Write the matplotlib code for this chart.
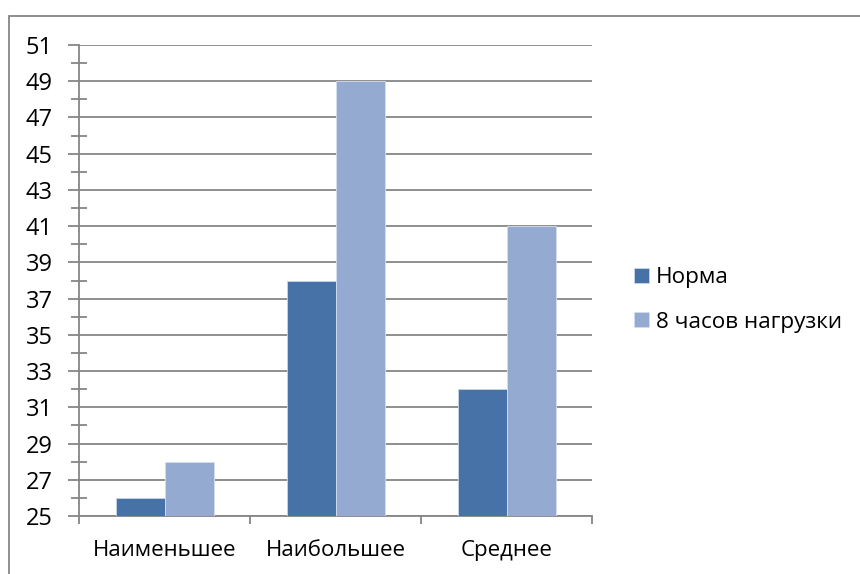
import matplotlib.pyplot as plt
import numpy as np
from matplotlib.patches import Rectangle

categories = ['Наименьшее', 'Наибольшее', 'Среднее']
norm = [26, 38, 32]
load8 = [28, 49, 41]
series_names = ['Норма', '8 часов нагрузки']
yticks = list(range(25, 52, 2))

plt.rcParams['font.family'] = ['Open Sans', 'DejaVu Sans']
grey = '#868686'

fig = plt.figure(figsize=(8.6, 5.74), dpi=100)
ax = fig.add_axes([79/860, 1 - 516/574, (592-79)/860, (516-45)/574])

x = np.arange(len(categories))
w = 49/171
ax.bar(x - w/2, np.array(norm) - 25, w, bottom=25, color='#4672A8',
       edgecolor='#C9D5E8', linewidth=0.6, label=series_names[0], zorder=3)
ax.bar(x + w/2, np.array(load8) - 25, w, bottom=25, color='#95AAD0',
       edgecolor='#D5DEEE', linewidth=0.6, label=series_names[1], zorder=3)

ax.set_xlim(-0.5, len(categories) - 0.5)
ax.set_ylim(25, 51)
ax.set_yticks(yticks)
ax.set_yticks(range(26, 51, 2), minor=True)
ax.yaxis.grid(True, color=grey, linewidth=1.3, zorder=0)
ax.tick_params(axis='y', which='major', direction='out', length=8, width=1.3,
               color=grey, labelsize=17, pad=11)
ax.tick_params(axis='y', which='minor', direction='inout', length=12, width=1.3,
               color=grey)

ax.set_xticks(x)
ax.set_xticklabels(categories)
ax.set_xticks(np.arange(len(categories) + 1) - 0.5, minor=True)
ax.tick_params(axis='x', which='major', length=0, labelsize=16, pad=17)
ax.tick_params(axis='x', which='minor', direction='out', length=6, width=1.3,
               color=grey)

for s in ['top', 'right']:
    ax.spines[s].set_visible(False)
for s in ['left', 'bottom']:
    ax.spines[s].set_color(grey)
    ax.spines[s].set_linewidth(1.3)

ax.legend(loc='center left', bbox_to_anchor=(614/860, 1 - 300/574),
          bbox_transform=fig.transFigure, frameon=False, fontsize=16.2,
          handlelength=0.65, handleheight=0.65, handletextpad=0.3,
          labelspacing=1.05)

fig.add_artist(Rectangle((9/860, -0.1), 1.1, 1 - 16/574 + 0.1,
                         transform=fig.transFigure, fill=False,
                         edgecolor=grey, linewidth=1.3))

fig.savefig('out.png', dpi=100)
